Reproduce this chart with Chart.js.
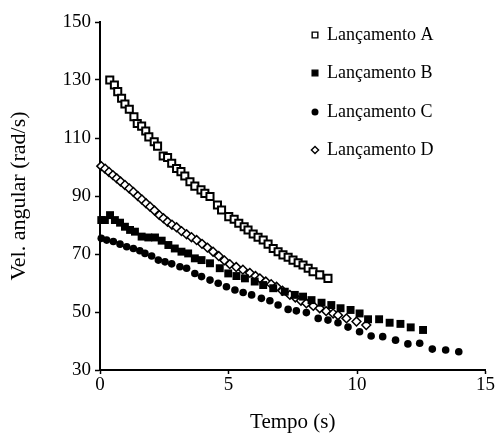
<!DOCTYPE html>
<html>
<head>
<meta charset="utf-8">
<title>Velocidade angular</title>
<script src="https://cdn.jsdelivr.net/npm/chart.js@4.4.1/dist/chart.umd.min.js"></script>
<style>
    body { margin: 0; background: #fff; }
    #wrap { width: 495px; height: 436px; }
</style>
</head>
<body>
<div id="wrap"><canvas id="velChart" width="495" height="436"></canvas></div>
<script>
// Data
const seriesLabels = ['Lançamento A', 'Lançamento B', 'Lançamento C', 'Lançamento D'];

const timeA = [0.38, 0.56, 0.69, 0.84, 0.97, 1.14, 1.32, 1.45, 1.62, 1.78, 1.90, 2.11, 2.24, 2.46, 2.63, 2.79, 2.98, 3.15, 3.30, 3.50, 3.69, 3.93, 4.08, 4.28, 4.57, 4.73, 5.01, 5.22, 5.40, 5.61, 5.76, 5.96, 6.15, 6.35, 6.54, 6.74, 6.93, 7.12, 7.32, 7.51, 7.71, 7.90, 8.10, 8.29, 8.55, 8.87];
const velA = [130.0, 128.3, 126.0, 123.7, 121.7, 119.9, 117.3, 115.0, 114.1, 112.4, 110.4, 108.7, 107.2, 103.8, 103.3, 101.3, 99.5, 98.4, 96.9, 94.9, 93.4, 92.1, 90.9, 89.8, 86.9, 85.2, 82.9, 82.0, 80.6, 79.4, 78.3, 76.9, 75.8, 74.8, 73.4, 71.9, 70.8, 69.7, 68.9, 67.9, 67.0, 66.2, 65.1, 63.9, 62.8, 61.6];

const timeB = [0.05, 0.19, 0.39, 0.58, 0.78, 0.97, 1.17, 1.36, 1.62, 1.88, 2.14, 2.40, 2.66, 2.91, 3.17, 3.43, 3.69, 3.95, 4.28, 4.66, 4.99, 5.31, 5.64, 6.02, 6.35, 6.74, 7.19, 7.58, 7.90, 8.23, 8.62, 9.00, 9.36, 9.75, 10.10, 10.43, 10.86, 11.27, 11.69, 12.09, 12.57];
const velB = [81.7, 81.7, 83.4, 81.7, 80.8, 79.4, 78.3, 77.7, 76.0, 75.7, 75.7, 74.6, 73.1, 71.9, 70.8, 70.2, 68.5, 67.9, 66.8, 65.1, 63.3, 62.4, 61.6, 60.5, 59.3, 58.2, 57.0, 55.9, 55.3, 54.1, 53.2, 52.4, 51.3, 50.7, 49.5, 47.5, 47.5, 46.3, 45.9, 44.7, 43.8];

const timeC = [0.05, 0.26, 0.52, 0.78, 1.04, 1.30, 1.55, 1.75, 2.01, 2.27, 2.53, 2.79, 3.11, 3.37, 3.69, 3.95, 4.28, 4.60, 4.92, 5.25, 5.57, 5.90, 6.28, 6.61, 6.93, 7.32, 7.64, 8.03, 8.49, 8.87, 9.26, 9.65, 10.10, 10.55, 11.00, 11.50, 11.98, 12.44, 12.93, 13.45, 13.96];
const velC = [75.4, 74.8, 74.3, 73.4, 72.5, 71.9, 71.1, 70.2, 69.3, 67.9, 67.3, 66.6, 65.6, 65.1, 63.3, 62.2, 61.0, 59.9, 58.7, 57.6, 56.7, 55.9, 54.7, 53.9, 52.4, 50.9, 50.4, 49.8, 47.8, 47.2, 46.3, 44.8, 43.2, 41.7, 41.5, 40.3, 39.0, 39.2, 37.2, 36.9, 36.3];

const timeD = [0.05, 0.20, 0.35, 0.50, 0.65, 0.80, 0.97, 1.14, 1.30, 1.47, 1.63, 1.79, 1.95, 2.12, 2.31, 2.47, 2.63, 2.80, 2.98, 3.17, 3.37, 3.56, 3.76, 3.97, 4.18, 4.40, 4.62, 4.84, 5.05, 5.30, 5.56, 5.83, 6.05, 6.22, 6.45, 6.66, 6.87, 7.10, 7.39, 7.60, 7.82, 8.03, 8.30, 8.55, 8.80, 9.07, 9.26, 9.59, 9.98, 10.36];
const velD = [100.3, 99.4, 98.3, 97.2, 96.1, 95.0, 93.8, 92.6, 91.4, 90.0, 88.8, 87.5, 86.3, 85.0, 83.4, 82.3, 81.1, 80.1, 79.2, 77.9, 76.8, 75.8, 74.8, 73.5, 72.2, 70.8, 69.3, 67.8, 66.5, 65.5, 64.6, 63.5, 62.4, 61.6, 60.5, 59.6, 58.7, 57.3, 55.9, 55.0, 53.9, 53.0, 52.1, 51.3, 50.3, 49.5, 48.9, 47.8, 46.7, 45.5];

const xTicks = [0, 5, 10, 15];
const yTicks = [30, 50, 70, 90, 110, 130, 150];

const FONT = '"Liberation Serif", "Times New Roman", serif';

document.addEventListener('DOMContentLoaded', function() {
    initChart();
});

// Build {x, y} points from two arrays
function toPoints(xs, ys) {
    return xs.map((x, i) => ({ x: x, y: ys[i] }));
}

// Legend drawn inside the plot, stacked in the top right
const sideLegend = {
    id: 'sideLegend',
    afterDraw(chart) {
        const ctx = chart.ctx;
        const rows = [35, 73, 112, 150];
        const sizes = [4, 4, 2.8, 3.6];
        ctx.save();
        chart.data.datasets.forEach((ds, i) => {
            const y = rows[i];
            ctx.fillStyle = ds.backgroundColor;
            ctx.strokeStyle = ds.borderColor;
            ctx.lineWidth = 1.4;
            Chart.helpers.drawPoint(ctx, {
                pointStyle: ds.pointStyle,
                radius: sizes[i],
                borderWidth: 1.4
            }, 315, y);
            ctx.fillStyle = '#000';
            ctx.font = '18px ' + FONT;
            ctx.textAlign = 'left';
            ctx.textBaseline = 'middle';
            ctx.fillText(ds.label, 327, y);
        });
        ctx.restore();
    }
};

function initChart() {
    const ctx = document.getElementById('velChart').getContext('2d');
    new Chart(ctx, {
        type: 'scatter',
        data: {
            datasets: [
                {
                    label: seriesLabels[0],
                    data: toPoints(timeA, velA),
                    pointStyle: 'rect',
                    pointRadius: 5,
                    borderWidth: 2,
                    borderColor: '#000',
                    backgroundColor: '#fff'
                },
                {
                    label: seriesLabels[1],
                    data: toPoints(timeB, velB),
                    pointStyle: 'rect',
                    pointRadius: 5.6,
                    borderWidth: 0,
                    borderColor: '#000',
                    backgroundColor: '#000'
                },
                {
                    label: seriesLabels[2],
                    data: toPoints(timeC, velC),
                    pointStyle: 'circle',
                    pointRadius: 3.8,
                    borderWidth: 0,
                    borderColor: '#000',
                    backgroundColor: '#000'
                },
                {
                    label: seriesLabels[3],
                    data: toPoints(timeD, velD),
                    pointStyle: 'rectRot',
                    pointRadius: 4.4,
                    borderWidth: 1.5,
                    borderColor: '#000',
                    backgroundColor: '#fff'
                }
            ]
        },
        options: {
            responsive: false,
            animation: false,
            clip: false,
            layout: {
                padding: { top: 22, right: 9, left: 0, bottom: 0 }
            },
            plugins: {
                legend: { display: false },
                tooltip: { enabled: false }
            },
            scales: {
                x: {
                    type: 'linear',
                    min: 0,
                    max: 15,
                    afterBuildTicks: function(scale) {
                        scale.ticks = xTicks.map(v => ({ value: v }));
                    },
                    afterFit: function(scale) {
                        scale.height = 66;
                    },
                    border: { color: '#000', width: 2 },
                    grid: {
                        drawOnChartArea: false,
                        tickLength: 4,
                        tickColor: '#000',
                        tickWidth: 1.5
                    },
                    ticks: {
                        color: '#000',
                        padding: 0,
                        font: { family: FONT, size: 19 }
                    },
                    title: {
                        display: true,
                        text: 'Tempo (s)',
                        color: '#000',
                        padding: { top: 0, bottom: 1 },
                        font: { family: FONT, size: 21 }
                    }
                },
                y: {
                    type: 'linear',
                    min: 30,
                    max: 150,
                    afterBuildTicks: function(scale) {
                        scale.ticks = yTicks.map(v => ({ value: v }));
                    },
                    afterFit: function(scale) {
                        scale.width = 100;
                    },
                    border: { color: '#000', width: 2 },
                    grid: {
                        drawOnChartArea: false,
                        tickLength: 5,
                        tickColor: '#000',
                        tickWidth: 1.5
                    },
                    ticks: {
                        color: '#000',
                        padding: 4,
                        font: { family: FONT, size: 19 }
                    },
                    title: {
                        display: true,
                        text: 'Vel. angular (rad/s)',
                        color: '#000',
                        padding: { top: 6, bottom: 0 },
                        font: { family: FONT, size: 22 }
                    }
                }
            }
        },
        plugins: [sideLegend]
    });
}
</script>
</body>
</html>
